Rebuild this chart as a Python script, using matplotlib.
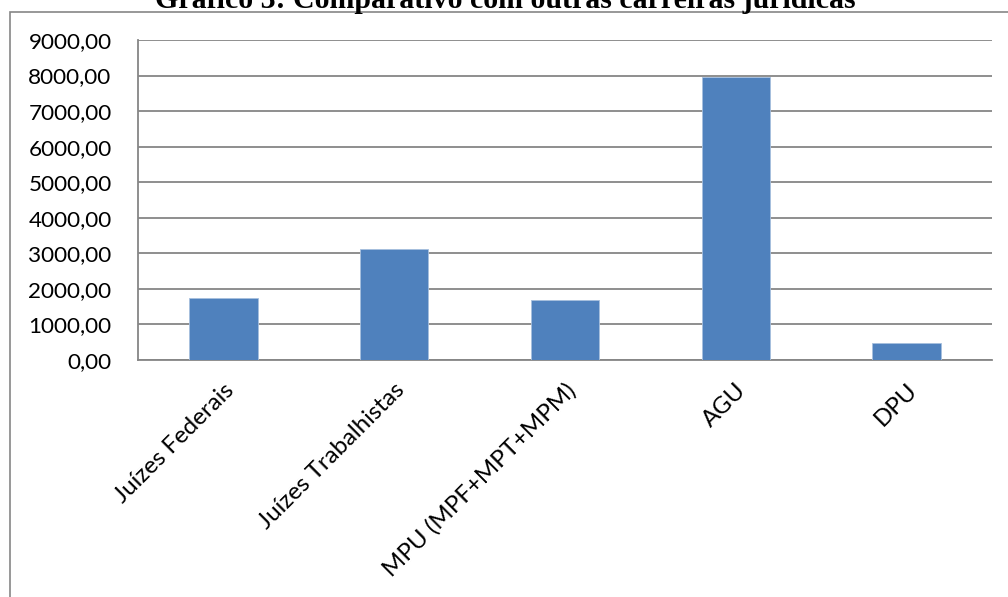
import matplotlib.pyplot as plt
from matplotlib.patches import Rectangle
from matplotlib.ticker import FuncFormatter

categorias = ['Juízes Federais', 'Juízes Trabalhistas', 'MPU (MPF+MPT+MPM)', 'AGU', 'DPU']
valores = [1740, 3110, 1700, 7970, 470]
titulo = 'Gráfico 3: Comparativo com outras carreiras jurídicas'

plt.rcParams['font.family'] = ['Lato', 'DejaVu Sans']

fig = plt.figure(figsize=(10.08, 5.97), dpi=100)
W, H = 1008, 597

# outer chart border (cropped at right/bottom, like the reference)
fig.patches.append(Rectangle((10 / W, -0.1), 1.2, 1 - 12 / H + 0.1, transform=fig.transFigure,
                             fill=False, edgecolor='#868686', linewidth=1.2))

fig.text(505 / W, 1 - 8 / H, titulo, ha='center', va='baseline', fontsize=21.5,
         fontweight='bold', family='Liberation Serif')

ax = fig.add_axes([138 / W, 1 - 360 / H, (992 - 138) / W, (360 - 40) / H])
x = range(len(categorias))
ax.bar(x, valores, width=0.4, color='#4F81BD', edgecolor='#A7BFDE', linewidth=0.6, zorder=3)

ax.set_xlim(-0.5, len(categorias) - 0.5)
ax.set_ylim(0, 9000)
ax.set_yticks(range(0, 9001, 1000))
ax.yaxis.set_major_formatter(FuncFormatter(lambda v, p: f'{v:.2f}'.replace('.', ',')))
ax.grid(axis='y', color='#868686', linewidth=1.3, zorder=0)
ax.set_xticks(list(x))
ax.set_xticklabels(categorias, rotation=45, ha='right', rotation_mode='anchor')
ax.tick_params(axis='both', length=0)
ax.tick_params(axis='y', pad=19, labelsize=16.2)
ax.tick_params(axis='x', pad=14, labelsize=17.3)
for s in ['top', 'right']:
    ax.spines[s].set_visible(False)
for s in ['left', 'bottom']:
    ax.spines[s].set_color('#868686')
    ax.spines[s].set_linewidth(1.3)

fig.savefig('out.png', dpi=100)
